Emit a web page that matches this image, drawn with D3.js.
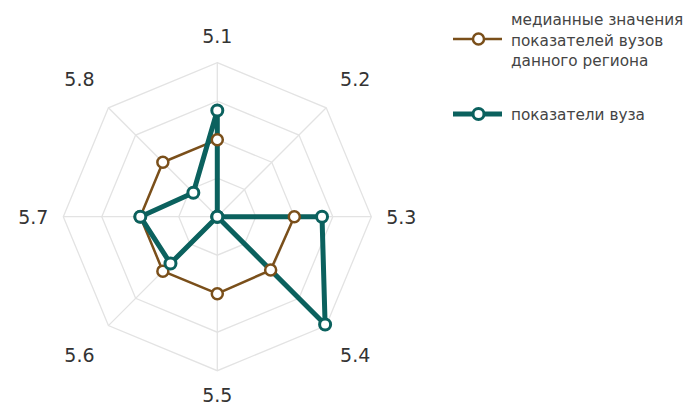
<!DOCTYPE html>
<html><head><meta charset="utf-8">
<script src="https://cdn.jsdelivr.net/npm/d3@7"></script>
<style>body{margin:0;background:#fff;}svg{display:block;font-family:"DejaVu Sans",Verdana,sans-serif;}</style>
</head><body><svg id="c" width="690" height="407"></svg>
<script>
const categories = ["5.1","5.2","5.3","5.4","5.5","5.6","5.7","5.8"];
const medianValues = [50, 0, 50, 49, 50, 50, 50, 50];
const uniValues = [69, 0, 68, 99, 0, 43, 50, 22];
const ringLevels = [25, 50, 75, 100];
const seriesNames = ["медианные значения|показателей вузов|данного региона", "показатели вуза"];

const svg = d3.select("#c");
const cx = 217.3, cy = 216.7, R = 154;
const r = d3.scaleLinear().domain([0, 100]).range([0, R]);
const ang = d3.scalePoint().domain(categories).range([0, 2*Math.PI*(categories.length-1)/categories.length]);
const pt = (c, v) => { const a = ang(c); return [cx + r(v)*Math.sin(a), cy - r(v)*Math.cos(a)]; };

const grid = svg.append("g");
ringLevels.forEach(l => {
  grid.append("path").attr("d", d3.line()(categories.map(c => pt(c, l))) + "Z")
    .attr("fill","none").attr("stroke","#e3e3e3").attr("stroke-width",1.3);
});
categories.forEach(c => {
  const p = pt(c, 100);
  grid.append("line").attr("x1",cx).attr("y1",cy).attr("x2",p[0]).attr("y2",p[1])
    .attr("stroke","#e3e3e3").attr("stroke-width",1.3);
});

// axis labels
categories.forEach((c,i) => {
  const a = ang(c);
  const diag = i % 2 === 1;
  const L = diag ? 195 : (i === 0 ? 181 : (i === 4 ? 178 : 184));
  const x = cx + L*Math.sin(a), y = cy - L*Math.cos(a);
  svg.append("text").attr("x",x).attr("y",y).attr("text-anchor","middle")
    .attr("dominant-baseline","central").attr("font-size",19).attr("fill","#333").text(c);
});

const brown = "#7a4f1a", teal = "#0b615e";
const lineGen = d3.line();
const uniPts = categories.map((c,i) => pt(c, uniValues[i]));
const medPts = categories.map((c,i) => pt(c, medianValues[i]));

svg.append("path").attr("d", lineGen(medPts)+"Z").attr("fill","none").attr("stroke",brown)
  .attr("stroke-width",2.5).attr("stroke-linejoin","round");
svg.append("path").attr("d", lineGen(uniPts)+"Z").attr("fill","none").attr("stroke",teal)
  .attr("stroke-width",5).attr("stroke-linejoin","round");
svg.selectAll(".mm").data(medPts).enter().append("circle").attr("cx",d=>d[0]).attr("cy",d=>d[1])
  .attr("r",5.5).attr("fill","#fff").attr("stroke",brown).attr("stroke-width",2.5);
svg.selectAll(".um").data(uniPts).enter().append("circle").attr("cx",d=>d[0]).attr("cy",d=>d[1])
  .attr("r",5.5).attr("fill","#fff").attr("stroke",teal).attr("stroke-width",3);

// legend
const leg = svg.append("g");
[[brown,2.5,2.5,39],[teal,5,3,114]].forEach(([col,lw,mw,y]) => {
  leg.append("line").attr("x1",453).attr("x2",502).attr("y1",y).attr("y2",y).attr("stroke",col).attr("stroke-width",lw);
  leg.append("circle").attr("cx",478.5).attr("cy",y).attr("r",5.5).attr("fill","#fff").attr("stroke",col).attr("stroke-width",mw);
});
const l1 = seriesNames[0].split("|");
l1.forEach((t,k) => leg.append("text").attr("x",511).attr("y",20+k*20.5).attr("dominant-baseline","central")
  .attr("font-size",15.3).attr("fill","#444").text(t));
leg.append("text").attr("x",511).attr("y",115).attr("dominant-baseline","central")
  .attr("font-size",15.3).attr("fill","#444").text(seriesNames[1]);
</script></body></html>
